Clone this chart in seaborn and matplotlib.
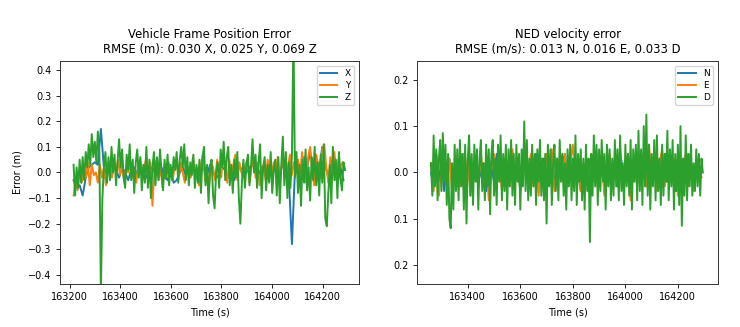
import numpy as np
import pandas as pd
import matplotlib
matplotlib.use("Agg")
import matplotlib.pyplot as plt
import seaborn as sns

# ---------------- data: left panel (vehicle frame position error, m) ----------------
pos_x_start, pos_x_step = 163215, 12
pos_x = [-0.03, -0.06, -0.05, -0.09, -0.02, 0.02, 0.03, 0.04, 0.03, 0.17,
         0.02, -0.01, 0.02, 0.03, 0.01, -0.02, 0.02, 0.0, -0.03, 0.01,
         0.02, -0.01, 0.03, 0.0, -0.02, 0.01, 0.02, -0.01, 0.0, 0.02,
         -0.02, -0.03, 0.01, -0.04, -0.03, 0.0, 0.02, -0.01, 0.01, 0.03,
         0.0, -0.02, 0.02, 0.01, -0.01, 0.03, 0.0, -0.02, -0.01, 0.02,
         0.01, -0.02, 0.0, -0.03, 0.01, 0.02, -0.01, 0.0, 0.02, 0.03,
         0.01, -0.01, 0.02, 0.0, -0.02, 0.03, 0.01, 0.02, 0.0, 0.03,
         0.02, -0.03, -0.28, 0.01, 0.04, 0.0, 0.06, 0.02, 0.08, 0.03,
         0.05, 0.01, 0.10, 0.03, -0.02, 0.04, 0.06, -0.05, 0.02, -0.03]

pos_y_start, pos_y_step = 163215, 8
pos_y = [-0.09, -0.03, -0.07, 0.01, -0.04, 0.02, -0.02, 0.04, -0.05, 0.03, -0.01,
         0.0, -0.04, 0.03, -0.02, 0.02, -0.05, 0.01, 0.04, -0.02, 0.03, 0.0, 0.05, -0.01,
         0.03, -0.03, 0.02, 0.0, 0.04, -0.02, 0.01, -0.04, 0.03, 0.05, -0.01, 0.02,
         0.06, -0.02, 0.04, -0.13, 0.01, 0.05, -0.03, 0.02, -0.06, 0.03, -0.01, 0.04, 0.0,
         -0.03, 0.02, 0.05, -0.02, 0.04, 0.0, -0.04, 0.03, 0.01, -0.02, 0.06, -0.01,
         0.02, -0.05, 0.03, 0.07, -0.03, 0.01, -0.06, 0.04, 0.02, -0.03, 0.05, 0.0, -0.02,
         0.06, 0.02, -0.04, 0.05, -0.01, 0.03, 0.07, -0.03, 0.04, 0.0, -0.02, 0.03,
         0.05, -0.04, 0.02, 0.06, -0.02, 0.04, -0.05, 0.01, 0.03, -0.03, 0.05, 0.0, -0.02,
         0.04, 0.0, 0.06, -0.03, 0.03, 0.05, -0.02, 0.02, 0.07, -0.01, 0.04, 0.0,
         0.05, -0.03, 0.08, 0.02, -0.04, 0.06, 0.10, 0.01, -0.05, 0.07, 0.03, -0.02, 0.09,
         0.11, 0.02, -0.04, 0.06, 0.0, 0.08, -0.03, 0.05, 0.02, 0.04, 0.01]

pos_z_start, pos_z_step = 163215, 6
pos_z = [0.03, -0.09, 0.02, -0.06, 0.05, -0.04, 0.06, -0.03,
         0.08, 0.02, 0.11, 0.03, 0.15, 0.06, 0.12, 0.04, 0.16, 0.08,
         -0.47,
         -0.10, 0.02,
         0.08, -0.04, 0.06, -0.03, 0.10, 0.0, 0.07, -0.05, 0.04, 0.13, 0.02, 0.09, -0.02,
         -0.06, 0.07, 0.01, 0.11, -0.03, 0.05, -0.08, 0.04, 0.09, -0.02, 0.06, -0.07, 0.03, -0.04, 0.10, -0.06, 0.05,
         -0.10, 0.02, 0.08, -0.05, 0.06, -0.03, 0.09, 0.0, -0.07, 0.05, -0.02, 0.07, -0.05, 0.03, -0.03, 0.06,
         0.01, 0.08, -0.04, 0.05, 0.10, 0.02, 0.11, -0.03, 0.06, -0.05, 0.04, -0.01, 0.07, -0.06, 0.03, -0.04, 0.05,
         -0.08, 0.06, 0.10, -0.05, 0.03, -0.12, 0.02, 0.05, -0.09, -0.14, 0.0, 0.04, -0.06, 0.09, 0.02, 0.12, -0.03,
         0.06, 0.10, -0.05, 0.03, -0.08, 0.05, -0.02, 0.08, -0.10, -0.20, -0.04, 0.05, -0.06, 0.03, 0.07, -0.05, 0.02,
         0.13, 0.0, 0.07, -0.06, 0.04, 0.11, -0.10, 0.02, 0.06, -0.07, 0.03, -0.04, 0.08, -0.08, 0.01, 0.05, -0.09,
         0.06, -0.12, 0.03, 0.14, -0.05, 0.08, -0.10, 0.04, -0.06, 0.07,
         0.55,
         -0.02, 0.08, -0.08, 0.03, -0.13, 0.05, -0.04, 0.09, -0.07, 0.02, -0.11, 0.06, -0.03, 0.10, -0.05,
         0.04, -0.09, 0.07, -0.04, 0.11, -0.18, -0.21, -0.08, 0.03, -0.12, 0.10, -0.03, 0.05, -0.10, 0.08, -0.02, -0.07, 0.04, 0.01]

# ---------------- data: right panel (NED velocity error, m/s) ----------------
vel_ne_start, vel_ne_step = 163260, 10
vel_n = [0.0, -0.03, 0.04, -0.02, 0.03, -0.04, 0.02, 0.03, -0.02, 0.01,
         -0.03, 0.02, 0.04, -0.01, 0.02, -0.03, 0.01, 0.03, -0.02, 0.0,
         0.02, -0.04, 0.03, 0.01, -0.02, 0.04, -0.01, 0.02, -0.03, 0.01,
         0.03, -0.02, 0.0, 0.02, -0.04, 0.01, 0.03, -0.03, 0.02, -0.01,
         0.04, -0.02, 0.01, 0.03, -0.03, 0.02, 0.0, -0.02, 0.03, -0.01,
         0.02, 0.04, -0.03, 0.01, -0.02, 0.03, 0.0, -0.04, 0.02, 0.01,
         -0.02, 0.03, -0.01, 0.04, -0.03, 0.02, 0.0, -0.02, 0.03, -0.01,
         0.02, -0.03, 0.04, 0.01, -0.02, 0.03, -0.04, 0.02, 0.0, 0.03,
         -0.02, 0.01, 0.04, -0.03, 0.02, -0.01, 0.03, 0.0, -0.03, 0.04,
         -0.02, 0.01, 0.03, -0.04, 0.02, -0.01, 0.03, -0.02, 0.04, 0.0,
         -0.03, 0.02, -0.01, 0.01]
vel_e = [0.02, -0.04, 0.03, -0.05, 0.01, 0.04, -0.02, 0.03, -0.04, 0.02,
         0.0, -0.03, 0.04, -0.01, 0.03, -0.05, 0.02, 0.01, -0.03, 0.04,
         -0.02, 0.03, -0.06, 0.01, 0.04, -0.02, 0.02, -0.04, 0.03, 0.0,
         -0.03, 0.05, -0.01, 0.02, -0.04, 0.03, 0.01, -0.02, 0.04, -0.03,
         0.02, -0.05, 0.03, 0.0, 0.04, -0.02, 0.05, -0.04, 0.01, 0.03,
         -0.02, 0.04, -0.03, 0.02, 0.06, -0.01, 0.03, -0.04, 0.02, 0.0,
         -0.03, 0.04, -0.02, 0.05, -0.01, 0.03, -0.05, 0.02, 0.04, -0.03,
         0.01, -0.02, 0.05, -0.03, 0.02, 0.04, -0.06, 0.01, 0.03, -0.02,
         0.04, 0.0, -0.03, 0.06, -0.02, 0.03, -0.04, 0.02, 0.05, -0.03,
         0.01, 0.04, -0.02, 0.03, -0.05, 0.02, 0.0, 0.04, -0.03, 0.02,
         -0.04, 0.03, 0.01, -0.01]

vel_d_start, vel_d_step = 163260, 5
vel_d = [0.02, -0.05, 0.08, -0.03, 0.05, -0.06, 0.03, 0.07, -0.04, 0.085, -0.02, 0.06, -0.07, 0.04, -0.10, -0.12, 0.02, -0.08, 0.06, -0.04,
         0.05, -0.06, 0.07, -0.03, 0.04, -0.08, 0.06, -0.11, 0.03, 0.08, -0.05, 0.04, -0.07, 0.06, -0.02, 0.05, -0.08, 0.03, 0.07, -0.04,
         0.02, -0.06, 0.06, -0.03, 0.05, -0.09, 0.04, 0.07, -0.05, 0.03, -0.07, 0.06, -0.02, 0.08, -0.06, 0.04, -0.04, 0.06, -0.08, 0.05,
         -0.03, 0.07, -0.05, 0.04, -0.07, 0.06, -0.02, 0.04, -0.08, 0.05, -0.03, 0.11, -0.04, 0.07, -0.06, 0.03, -0.05, 0.06, -0.03, 0.04,
         -0.07, 0.05, -0.02, 0.07, -0.05, 0.03, -0.06, 0.04, -0.11, 0.06, -0.03, 0.05, -0.07, 0.02, 0.06, -0.04, 0.03, -0.06, 0.07, -0.02,
         0.04, -0.05, 0.02, -0.08, 0.05, -0.03, 0.06, -0.06, 0.03, -0.04, 0.08, -0.07, 0.04, -0.02, 0.05, -0.06, 0.03, -0.08, 0.06, -0.04,
         0.03, -0.15, 0.04, -0.05, 0.08, -0.03, 0.06, -0.07, 0.05, -0.04, 0.07, -0.02, 0.04, -0.08, 0.06, -0.03, 0.05, -0.06, 0.03, -0.05,
         0.07, -0.03, 0.05, -0.06, 0.08, -0.04, 0.02, -0.07, 0.06, -0.03, 0.04, -0.05, 0.07, -0.08, 0.05, -0.02, 0.06, -0.06, 0.09, -0.04,
         0.05, -0.07, 0.10, -0.03, 0.125, -0.05, 0.06, -0.08, 0.04, -0.03, 0.07, -0.06, 0.08, -0.04, 0.03, -0.07, 0.06, -0.05, 0.04, -0.02,
         0.09, -0.06, 0.05, -0.03, 0.07, -0.08, 0.04, -0.04, 0.06, -0.07, 0.10, -0.115, 0.03, -0.05, 0.08, -0.06, 0.04, -0.03, 0.06, -0.05,
         0.02, -0.04, 0.05, -0.03, 0.04, -0.05, 0.03, 0.0]

left_labels = ["X", "Y", "Z"]
right_labels = ["N", "E", "D"]
left_title = "Vehicle Frame Position Error\nRMSE (m): 0.030 X, 0.025 Y, 0.069 Z"
right_title = "NED velocity error\nRMSE (m/s): 0.013 N, 0.016 E, 0.033 D"
right_yticks = [-0.2, -0.1, 0.0, 0.1, 0.2]
right_yticklabels = ["0.2", "0.1", "0.0", "0.1", "0.2"]
left_yticks = [-0.4, -0.3, -0.2, -0.1, 0.0, 0.1, 0.2, 0.3, 0.4]
left_xticks = [163200, 163400, 163600, 163800, 164000, 164200]
right_xticks = [163400, 163600, 163800, 164000, 164200]


def series_frame(start, step, values, label):
    t = start + step * np.arange(len(values))
    return pd.DataFrame({"Time": t, "Error": values, "Series": label})


left_df = pd.concat([
    series_frame(pos_x_start, pos_x_step, pos_x, "X"),
    series_frame(pos_y_start, pos_y_step, pos_y, "Y"),
    series_frame(pos_z_start, pos_z_step, pos_z, "Z"),
], ignore_index=True)

right_df = pd.concat([
    series_frame(vel_ne_start, vel_ne_step, vel_n, "N"),
    series_frame(vel_ne_start, vel_ne_step, vel_e, "E"),
    series_frame(vel_d_start, vel_d_step, vel_d, "D"),
], ignore_index=True)

palette = sns.color_palette("tab10", 3)

fig = plt.figure(figsize=(7.4, 3.27), dpi=100)
ax1 = fig.add_axes([0.081, 0.132, 0.404, 0.681])
ax2 = fig.add_axes([0.564, 0.132, 0.406, 0.681])

sns.lineplot(data=left_df, x="Time", y="Error", hue="Series", hue_order=left_labels,
             palette=palette, estimator=None, sort=False, linewidth=1.4, ax=ax1)
sns.lineplot(data=right_df, x="Time", y="Error", hue="Series", hue_order=right_labels,
             palette=palette, estimator=None, sort=False, linewidth=1.4, ax=ax2)

fs = 7
ax1.set_ylim(-0.435, 0.435)
ax1.set_yticks(left_yticks)
ax1.set_xticks(left_xticks)
ax1.set_xlim(163161, 164344)
ax1.set_xlabel("Time (s)", fontsize=fs)
ax1.set_ylabel("Error (m)", fontsize=fs)
ax1.set_title(left_title, fontsize=8.4)

ax2.set_ylim(-0.24, 0.24)
ax2.set_yticks(right_yticks)
ax2.set_yticklabels(right_yticklabels)
ax2.set_xticks(right_xticks)
ax2.set_xlim(163208, 164352)
ax2.set_xlabel("Time (s)", fontsize=fs)
ax2.set_ylabel("")
ax2.set_title(right_title, fontsize=8.4)

for ax in (ax1, ax2):
    ax.tick_params(labelsize=fs, length=2.6, width=0.6)
    for sp in ax.spines.values():
        sp.set_linewidth(0.7)
        sp.set_edgecolor("#333333")
    h, l = ax.get_legend_handles_labels()
    ax.legend(h, l, loc="upper right", fontsize=6.5, handlelength=1.9,
              borderpad=0.4, labelspacing=0.3, handletextpad=0.8, framealpha=0.8)

fig.savefig("out.png", dpi=100)
